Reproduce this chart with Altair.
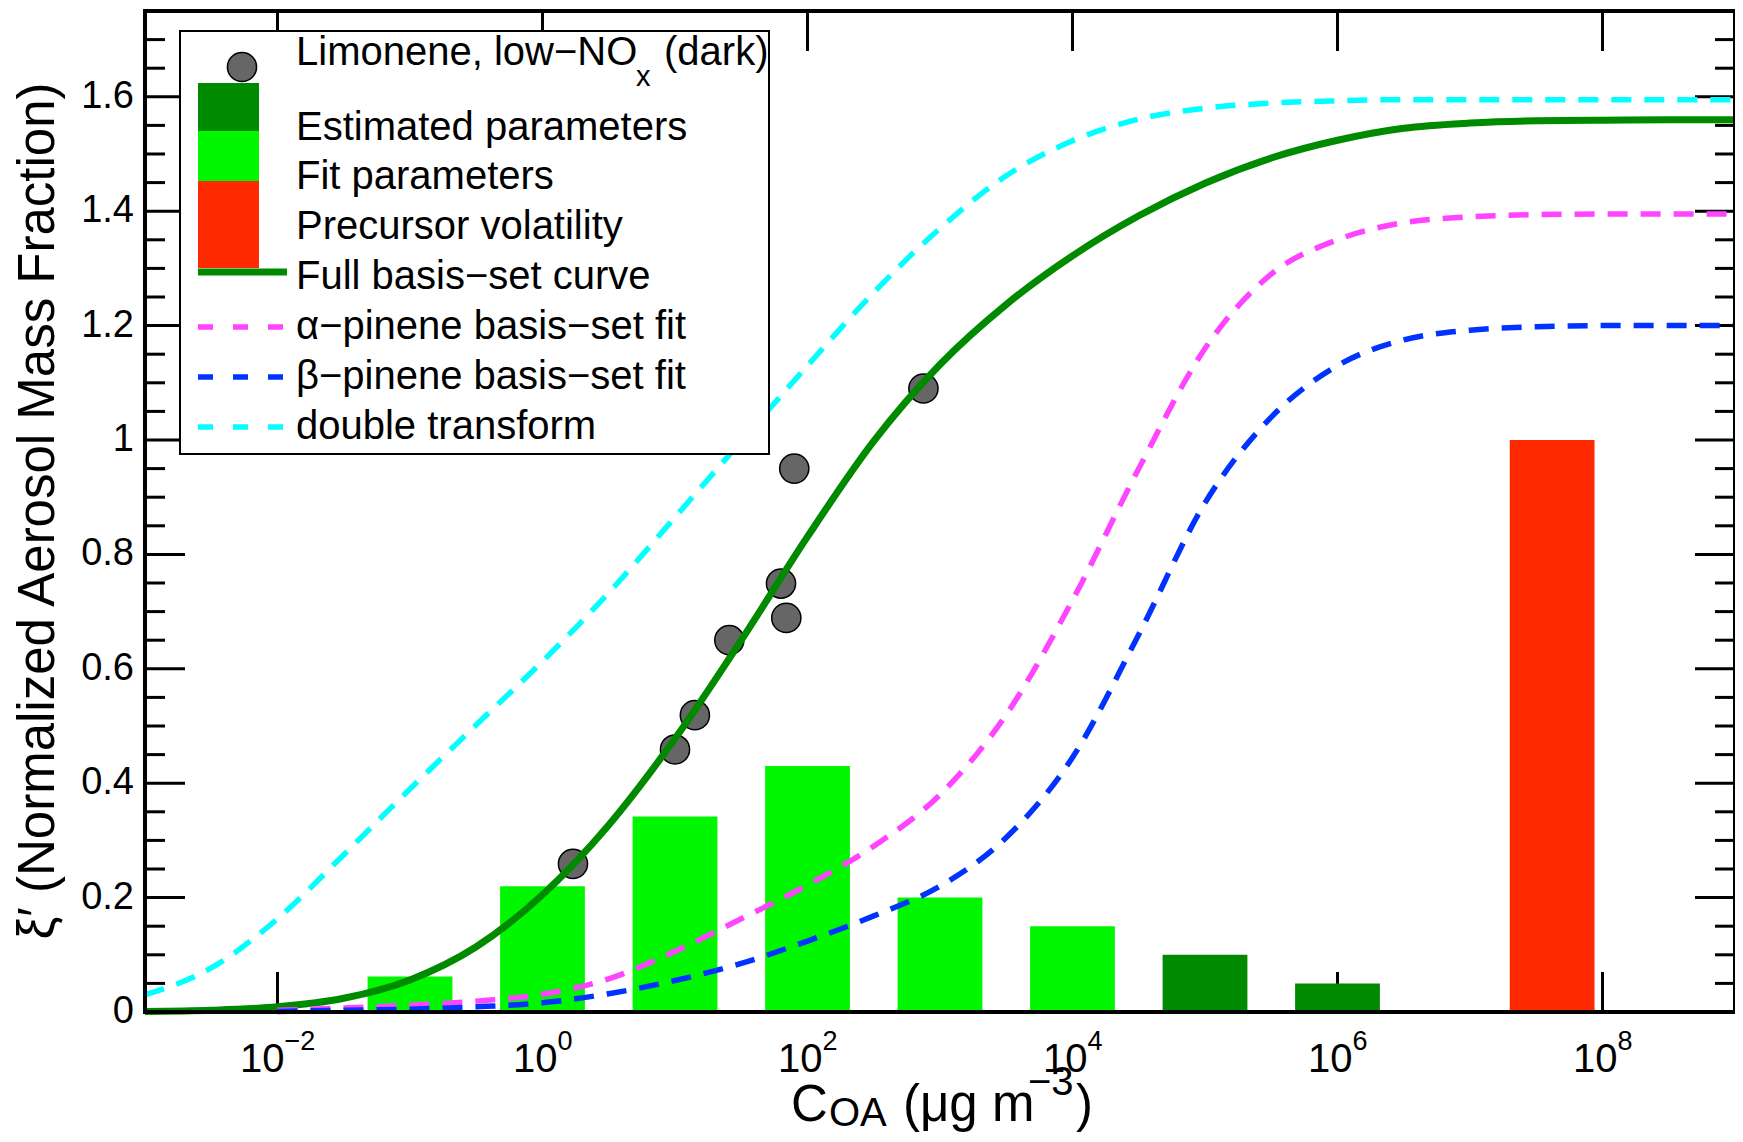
import altair as alt
import pandas as pd

FONT = "Liberation Sans"
W, H = 1590, 1001

# ---------------- data ----------------
BAR_LOGC = [-1, 0, 1, 2, 3, 4, 5, 6, 7.62]
BAR_VAL = [0.062, 0.22, 0.342, 0.43, 0.2, 0.15, 0.1, 0.05, 1.0]
BAR_KIND = ["Fit parameters"] * 6 + ["Estimated parameters"] * 2 + ["Precursor volatility"]

PT_LOGC = [0.23, 1.0, 1.15, 1.41, 1.80, 1.84, 1.90, 2.875]
PT_VAL = [0.259, 0.459, 0.519, 0.65, 0.749, 0.689, 0.95, 1.09]

FULL_LOGC = [-3, -2.5, -2, -1.5, -1, -0.5, 0, 0.5, 1, 1.5, 2, 2.5, 3, 3.5, 4, 4.5,
             5, 5.5, 6, 6.5, 7, 7.5, 8, 8.5, 9]
GREEN = [0.001, 0.003, 0.009, 0.024, 0.056, 0.114, 0.205, 0.327, 0.478, 0.65, 0.831,
         0.998, 1.132, 1.237, 1.322, 1.392, 1.449, 1.493, 1.524, 1.545, 1.554, 1.558,
         1.559, 1.56, 1.56]
CYAN = [0.03, 0.077, 0.163, 0.275, 0.39, 0.502, 0.613, 0.733, 0.865, 0.998, 1.13,
        1.258, 1.37, 1.462, 1.523, 1.561, 1.58, 1.589, 1.593, 1.595, 1.595, 1.595,
        1.595, 1.595, 1.595]
PIN_LOGC = [-2, -1.5, -1, -0.5, 0, 0.5, 1, 1.5, 2, 2.5, 3, 3.5, 4, 4.5, 5, 5.5, 6,
            6.5, 7, 7.5, 8, 8.5, 9]
MAGENTA = [0.003, 0.007, 0.012, 0.019, 0.031, 0.058, 0.106, 0.163, 0.222, 0.29,
           0.38, 0.52, 0.72, 0.95, 1.16, 1.29, 1.35, 1.38, 1.39, 1.394, 1.395,
           1.395, 1.395]
BLUE = [0.001, 0.003, 0.005, 0.009, 0.016, 0.032, 0.055, 0.085, 0.124, 0.168, 0.22,
        0.305, 0.445, 0.66, 0.89, 1.04, 1.13, 1.175, 1.192, 1.198, 1.2, 1.2, 1.2]

X_TICKS = [1e-2, 1e0, 1e2, 1e4, 1e6, 1e8]
X_EXP = ["\u22122", "0", "2", "4", "6", "8"]
Y_MAJOR = [0, 0.2, 0.4, 0.6, 0.8, 1.0, 1.2, 1.4, 1.6]
Y_LABELS = ["0", "0.2", "0.4", "0.6", "0.8", "1", "1.2", "1.4", "1.6"]
Y_MINOR = [round(0.05 * k, 2) for k in range(1, 35) if k % 4 != 0]

# ---------------- frames ----------------
BAR_HALF = 0.32
bars = pd.DataFrame({
    "lo": [10 ** (c - BAR_HALF) for c in BAR_LOGC],
    "hi": [10 ** (c + BAR_HALF) for c in BAR_LOGC],
    "v": BAR_VAL, "base": [0.0] * len(BAR_VAL), "kind": BAR_KIND})
pts = pd.DataFrame({"C": [10 ** l for l in PT_LOGC], "v": PT_VAL})
full = pd.DataFrame({"C": [10 ** l for l in FULL_LOGC], "g": GREEN, "c": CYAN})
pin = pd.DataFrame({"C": [10 ** l for l in PIN_LOGC], "m": MAGENTA, "b": BLUE})
xt = pd.DataFrame({"t": X_TICKS, "e": X_EXP})
ymaj = pd.DataFrame({"t": Y_MAJOR, "lab": Y_LABELS})
ymin = pd.DataFrame({"t": Y_MINOR})
one = pd.DataFrame({"a": [0]})

xs = alt.Scale(type="log", domain=[1e-3, 1e9], nice=False)
ys = alt.Scale(domain=[0, 1.75], nice=False, zero=False)


def X(f):
    return alt.X(f, type="quantitative", scale=xs, axis=None)


def Y(f):
    return alt.Y(f, type="quantitative", scale=ys, axis=None)


layers = []

# ticks (inward, under the data)
TK = dict(color="black", strokeWidth=3)
layers.append(alt.Chart(xt).mark_rule(**TK).encode(x=X("t"), y=alt.value(H), y2=alt.value(H - 40)))
layers.append(alt.Chart(xt).mark_rule(**TK).encode(x=X("t"), y=alt.value(0), y2=alt.value(40)))
layers.append(alt.Chart(ymaj).mark_rule(**TK).encode(y=Y("t"), x=alt.value(0), x2=alt.value(40)))
layers.append(alt.Chart(ymaj).mark_rule(**TK).encode(y=Y("t"), x=alt.value(W - 40), x2=alt.value(W)))
layers.append(alt.Chart(ymin).mark_rule(**TK).encode(y=Y("t"), x=alt.value(0), x2=alt.value(20)))
layers.append(alt.Chart(ymin).mark_rule(**TK).encode(y=Y("t"), x=alt.value(W - 20), x2=alt.value(W)))

# bars
layers.append(alt.Chart(bars).mark_rect().encode(
    x=X("lo"), x2="hi", y=Y("v"), y2="base",
    color=alt.Color("kind:N", legend=None, scale=alt.Scale(
        domain=["Estimated parameters", "Fit parameters", "Precursor volatility"],
        range=["#008a00", "#00f700", "#ff2a00"]))))

# points
PT_STYLE = dict(size=850, fill="#666666", stroke="black", strokeWidth=1.5, opacity=1)
layers.append(alt.Chart(pts).mark_circle(**PT_STYLE).encode(x=X("C"), y=Y("v")))

# curves
layers.append(alt.Chart(full).mark_line(color="#008a00", strokeWidth=7, interpolate="monotone").encode(x=X("C"), y=Y("g")))
DASH = [20, 13]
DW = 5.5
layers.append(alt.Chart(pin).mark_line(color="#ff44ff", strokeWidth=DW, strokeDash=DASH, interpolate="monotone").encode(x=X("C"), y=Y("m")))
layers.append(alt.Chart(pin).mark_line(color="#0033ff", strokeWidth=DW, strokeDash=DASH, interpolate="monotone").encode(x=X("C"), y=Y("b")))
layers.append(alt.Chart(full).mark_line(color="#00ffff", strokeWidth=DW, strokeDash=DASH, interpolate="monotone").encode(x=X("C"), y=Y("c")))

# frame
layers.append(alt.Chart(one).mark_rect(filled=False, stroke="black", strokeWidth=4).encode(
    x=alt.value(0), x2=alt.value(W), y=alt.value(0), y2=alt.value(H)))

# tick labels
layers.append(alt.Chart(ymaj).mark_text(font=FONT, fontSize=38, align="right", baseline="middle").encode(
    y=Y("t"), x=alt.value(-11), text="lab:N"))
TL = dict(font=FONT, fontSize=40, align="right", baseline="alphabetic")
SL = dict(font=FONT, fontSize=27, align="left", baseline="alphabetic")
layers.append(alt.Chart(xt).transform_filter("datum.t < 0.1").mark_text(dx=7, text="10", **TL).encode(
    x=X("t"), y=alt.value(1061)))
layers.append(alt.Chart(xt).transform_filter("datum.t > 0.1").mark_text(dx=15, text="10", **TL).encode(
    x=X("t"), y=alt.value(1061)))
layers.append(alt.Chart(xt).transform_filter("datum.t < 0.1").mark_text(dx=7, **SL).encode(
    x=X("t"), y=alt.value(1039), text="e:N"))
layers.append(alt.Chart(xt).transform_filter("datum.t > 0.1").mark_text(dx=15, **SL).encode(
    x=X("t"), y=alt.value(1039), text="e:N"))


# axis titles
def txt(s, x, y, size, align="left", baseline="alphabetic", angle=0):
    kw = dict(text=s, font=FONT, fontSize=size, align=align, baseline=baseline)
    if angle:
        kw["angle"] = angle
    return alt.Chart(one).mark_text(**kw).encode(x=alt.value(x), y=alt.value(y))


layers.append(txt("C", 646, 1110, 51))
layers.append(txt("OA", 684, 1115, 40))
layers.append(txt("(\u03bcg m", 758, 1110, 51))
layers.append(txt("\u22123", 883, 1084, 40))
layers.append(txt(")", 931, 1110, 51))
layers.append(txt("\u03be\u2032 (Normalized Aerosol Mass Fraction)", -106, 500, 51,
                  align="center", baseline="middle", angle=270))

# legend
layers.append(alt.Chart(one).mark_rect(fill="white", stroke="black", strokeWidth=2).encode(
    x=alt.value(35), x2=alt.value(624), y=alt.value(20), y2=alt.value(443)))
layers.append(alt.Chart(one).mark_circle(**PT_STYLE).encode(x=alt.value(97), y=alt.value(56)))
for (y0, y1, col) in [(72, 120, "#008a00"), (120, 170, "#00f700"), (170, 257, "#ff2a00")]:
    layers.append(alt.Chart(one).mark_rect(color=col).encode(
        x=alt.value(53), x2=alt.value(114), y=alt.value(y0), y2=alt.value(y1)))
layers.append(alt.Chart(one).mark_rule(color="#008a00", strokeWidth=7).encode(
    x=alt.value(53), x2=alt.value(142), y=alt.value(261)))
for (yy, col) in [(316, "#ff44ff"), (366, "#0033ff"), (416, "#00ffff")]:
    layers.append(alt.Chart(one).mark_rule(color=col, strokeWidth=DW, strokeDash=[15, 20]).encode(
        x=alt.value(53), x2=alt.value(139), y=alt.value(yy)))

LX = 151
layers.append(txt("Limonene, low\u2212NO", LX, 42, 40, baseline="middle"))
layers.append(txt("x", 491, 66, 29, baseline="middle"))
layers.append(txt("(dark)", 519, 42, 40, baseline="middle"))
for (s, yy) in [("Estimated parameters", 117), ("Fit parameters", 166),
                ("Precursor volatility", 216), ("Full basis\u2212set curve", 266),
                ("\u03b1\u2212pinene basis\u2212set fit", 316),
                ("\u03b2\u2212pinene basis\u2212set fit", 366), ("double transform", 416)]:
    layers.append(txt(s, LX, yy, 40, baseline="middle"))

chart = alt.layer(*layers).properties(
    width=W, height=H,
    autosize=alt.AutoSizeParams(type="none"),
    padding={"left": 137, "top": 3, "right": 0, "bottom": 122},
).configure_view(strokeWidth=0)

chart.save("out.html", embed_options={"renderer": "svg", "actions": False})
